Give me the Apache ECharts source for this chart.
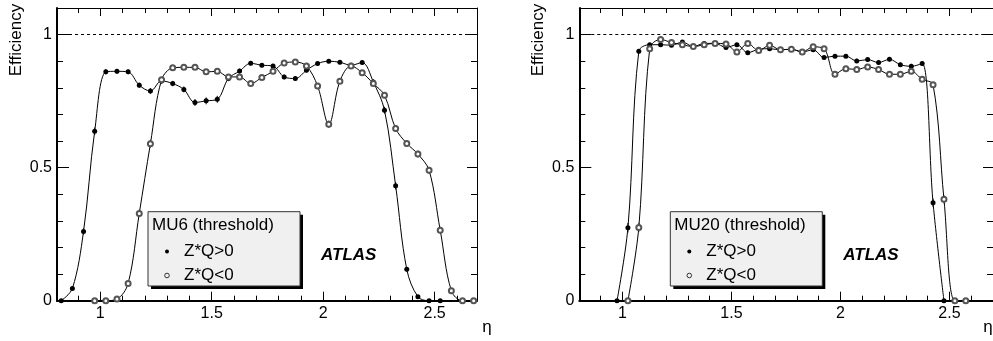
<!DOCTYPE html>
<html>
<head>
<meta charset="utf-8">
<script src="https://cdn.jsdelivr.net/npm/echarts@6/dist/echarts.min.js"></script>
<style>html,body{margin:0;padding:0;background:#fff;}#c{width:993px;height:341px;}</style>
</head>
<body>
<div id="c"></div>
<script>
// ---------- data ----------
// MU6 panel (left)
const etaMU6Pos = [0.825,0.875,0.925,0.975,1.025,1.075,1.125,1.175,1.225,1.275,1.325,1.375,1.425,1.475,1.525,1.575,1.625,1.675,1.725,1.775,1.825,1.875,1.925,1.975,2.025,2.075,2.125,2.175,2.225,2.275,2.325,2.375,2.425,2.475,2.525];
const effMU6Pos = [0,0.046,0.26,0.637,0.86,0.862,0.86,0.81,0.788,0.826,0.816,0.794,0.745,0.751,0.757,0.835,0.863,0.892,0.885,0.882,0.841,0.835,0.866,0.891,0.9,0.896,0.885,0.895,0.822,0.716,0.432,0.118,0.015,0,0];
const errMU6Pos = [0,0.006,0.012,0.014,0.01,0.009,0.009,0.01,0.011,0.01,0.01,0.011,0.013,0.013,0.013,0.01,0.009,0.008,0.008,0.008,0.009,0.009,0.008,0.008,0.007,0.007,0.008,0.008,0.01,0.013,0.014,0.008,0.004,0,0];
const etaMU6Neg = [0.975,1.025,1.075,1.125,1.175,1.225,1.275,1.325,1.375,1.425,1.475,1.525,1.575,1.625,1.675,1.725,1.775,1.825,1.875,1.925,1.975,2.025,2.075,2.125,2.175,2.225,2.275,2.325,2.375,2.425,2.475,2.525,2.575,2.625,2.675];
const effMU6Neg = [0,0,0.006,0.065,0.328,0.59,0.83,0.875,0.877,0.877,0.86,0.862,0.841,0.841,0.816,0.839,0.862,0.893,0.897,0.882,0.807,0.663,0.825,0.882,0.857,0.816,0.772,0.647,0.591,0.551,0.49,0.265,0.0375,0,0];
const errMU6Neg = [0,0,0.003,0.008,0.014,0.015,0.01,0.008,0.008,0.008,0.009,0.009,0.009,0.009,0.01,0.009,0.009,0.008,0.008,0.008,0.01,0.014,0.01,0.008,0.009,0.01,0.011,0.013,0.013,0.013,0.013,0.013,0.006,0,0];
// MU20 panel (right)
const etaMU20Pos = [0.975,1.025,1.075,1.125,1.175,1.225,1.275,1.325,1.375,1.425,1.475,1.525,1.575,1.625,1.675,1.725,1.775,1.825,1.875,1.925,1.975,2.025,2.075,2.125,2.175,2.225,2.275,2.325,2.375,2.425,2.475];
const effMU20Pos = [0,0.274,0.937,0.962,0.962,0.96,0.972,0.955,0.967,0.967,0.952,0.962,0.932,0.945,0.947,0.943,0.945,0.935,0.943,0.914,0.919,0.919,0.901,0.906,0.895,0.907,0.887,0.881,0.891,0.368,0];
const errMU20Pos = [0,0.018,0.008,0.006,0.006,0.006,0.005,0.006,0.006,0.006,0.006,0.006,0.007,0.006,0.006,0.006,0.006,0.006,0.006,0.007,0.007,0.007,0.008,0.008,0.008,0.008,0.008,0.009,0.009,0.016,0];
const etaMU20Neg = [1.025,1.075,1.125,1.175,1.225,1.275,1.325,1.375,1.425,1.475,1.525,1.575,1.625,1.675,1.725,1.775,1.825,1.875,1.925,1.975,2.025,2.075,2.125,2.175,2.225,2.275,2.325,2.375,2.425,2.475,2.525,2.575];
const effMU20Neg = [0,0.275,0.947,0.982,0.97,0.962,0.955,0.962,0.967,0.965,0.935,0.967,0.94,0.96,0.943,0.945,0.935,0.954,0.947,0.851,0.872,0.869,0.878,0.869,0.851,0.851,0.862,0.832,0.812,0.381,0,0];
const errMU20Neg = [0,0.018,0.008,0.005,0.006,0.006,0.006,0.006,0.006,0.006,0.007,0.006,0.007,0.006,0.006,0.006,0.006,0.006,0.006,0.009,0.008,0.008,0.008,0.008,0.009,0.009,0.009,0.009,0.01,0.016,0,0];
// ticks
const xMajor = [1, 1.5, 2, 2.5];
const xMinor = [0.9, 1.1, 1.2, 1.3, 1.4, 1.6, 1.7, 1.8, 1.9, 2.1, 2.2, 2.3, 2.4, 2.6];
const yMajor = [0, 0.5, 1];
const yMinor = [0.1, 0.2, 0.3, 0.4, 0.6, 0.7, 0.8, 0.9];
const panelTitles = ['MU6 (threshold)', 'MU20 (threshold)'];
const seriesNames = ['Z*Q>0', 'Z*Q<0'];

// ---------- layout ----------
const FONT = '"Liberation Sans", Arial, Helvetica, sans-serif';
const panels = [
  {left: 57, width: 420, xmin: 0.806, xmax: 2.69},
  {left: 579.3, width: 422, xmin: 0.802, xmax: 2.7}
];
const TOP = 8, HEIGHT = 292.7;

const grids = [], xAxes = [], yAxes = [], series = [], graphics = [];

function fmt(v){ return String(+v.toFixed(2)); }

function errSeries(gi, eta, eff, err, color) {
  return {
    type: 'custom', xAxisIndex: gi * 4, yAxisIndex: gi * 4, silent: true, z: 2,
    data: eta.map((x, i) => [x, eff[i], err[i]]),
    renderItem: function (params, api) {
      const x = api.value(0), y = api.value(1), e = api.value(2);
      const lo = api.coord([x, y - e]), hi = api.coord([x, y + e]);
      return {type: 'line', shape: {x1: lo[0], y1: lo[1], x2: hi[0], y2: hi[1]},
        style: {stroke: color, lineWidth: 1}};
    }
  };
}

panels.forEach((p, gi) => {
  grids.push({left: p.left, top: TOP, width: p.width, height: HEIGHT, containLabel: false});
  const xBase = {gridIndex: gi, type: 'value', min: p.xmin, max: p.xmax, splitLine: {show: false}};
  xAxes.push(Object.assign({}, xBase, {position: 'bottom',
    axisLine: {show: true, onZero: false, lineStyle: {color: '#000', width: 2}},
    axisTick: {show: true, inside: true, length: 9, customValues: xMajor, lineStyle: {color: '#000', width: 1}},
    axisLabel: {show: true, customValues: xMajor, formatter: fmt, fontSize: 16, fontFamily: FONT, color: '#000', margin: 5}}));
  xAxes.push(Object.assign({}, xBase, {position: 'bottom',
    axisLine: {show: false, onZero: false},
    axisTick: {show: true, inside: true, length: 5, customValues: xMinor, lineStyle: {color: '#000', width: 1}},
    axisLabel: {show: false}}));
  xAxes.push(Object.assign({}, xBase, {position: 'top',
    axisLine: {show: true, onZero: false, lineStyle: {color: '#000', width: 1}},
    axisTick: {show: true, inside: true, length: 8, customValues: xMajor, lineStyle: {color: '#000', width: 1}},
    axisLabel: {show: false}}));
  xAxes.push(Object.assign({}, xBase, {position: 'top',
    axisLine: {show: false, onZero: false},
    axisTick: {show: true, inside: true, length: 5, customValues: xMinor, lineStyle: {color: '#000', width: 1}},
    axisLabel: {show: false}}));

  const yBase = {gridIndex: gi, type: 'value', min: 0, max: 1.1, splitLine: {show: false}};
  yAxes.push(Object.assign({}, yBase, {position: 'left',
    axisLine: {show: true, onZero: false, lineStyle: {color: '#000', width: 2}},
    axisTick: {show: true, inside: true, length: 12, customValues: yMajor, lineStyle: {color: '#000', width: 1}},
    axisLabel: {show: true, customValues: yMajor, formatter: fmt, fontSize: 16, fontFamily: FONT, color: '#000', margin: 5}}));
  yAxes.push(Object.assign({}, yBase, {position: 'left',
    axisLine: {show: false, onZero: false},
    axisTick: {show: true, inside: true, length: 6, customValues: yMinor, lineStyle: {color: '#000', width: 1}},
    axisLabel: {show: false}}));
  yAxes.push(Object.assign({}, yBase, {position: 'right',
    axisLine: {show: true, onZero: false, lineStyle: {color: '#000', width: 1}},
    axisTick: {show: true, inside: true, length: 10, customValues: yMajor, lineStyle: {color: '#000', width: 1}},
    axisLabel: {show: false}}));
  yAxes.push(Object.assign({}, yBase, {position: 'right',
    axisLine: {show: false, onZero: false},
    axisTick: {show: true, inside: true, length: 6, customValues: yMinor, lineStyle: {color: '#000', width: 1}},
    axisLabel: {show: false}}));

  const posEta = gi === 0 ? etaMU6Pos : etaMU20Pos;
  const posEff = gi === 0 ? effMU6Pos : effMU20Pos;
  const posErr = gi === 0 ? errMU6Pos : errMU20Pos;
  const negEta = gi === 0 ? etaMU6Neg : etaMU20Neg;
  const negEff = gi === 0 ? effMU6Neg : effMU20Neg;
  const negErr = gi === 0 ? errMU6Neg : errMU20Neg;

  series.push({
    name: seriesNames[0] + gi, type: 'line', xAxisIndex: gi * 4, yAxisIndex: gi * 4,
    data: posEta.map((x, i) => [x, posEff[i]]),
    smooth: 0.35, symbol: 'circle', symbolSize: 5, showSymbol: true,
    lineStyle: {color: '#000', width: 1}, itemStyle: {color: '#000'},
    animation: false, z: 3,
    markLine: {silent: true, symbol: ['none', 'none'], label: {show: false},
      lineStyle: {color: '#000', width: 1, type: [3, 3]}, data: [{yAxis: 1}]}
  });
  series.push({
    name: seriesNames[1] + gi, type: 'line', xAxisIndex: gi * 4, yAxisIndex: gi * 4,
    data: negEta.map((x, i) => [x, negEff[i]]),
    smooth: 0.35, symbol: 'emptyCircle', symbolSize: 5, showSymbol: true,
    lineStyle: {color: '#000', width: 1}, itemStyle: {color: '#555', borderWidth: 1},
    animation: false, z: 4
  });
  series.push(errSeries(gi, posEta, posEff, posErr, '#000'));
  series.push(errSeries(gi, negEta, negEff, negErr, '#444'));

  const dx = p.left - 57;
  // legend box
  graphics.push({type: 'rect', shape: {x: 151 + dx, y: 214.7, width: 152, height: 74.3}, style: {fill: '#000'}, z: 10});
  graphics.push({type: 'rect', shape: {x: 148 + dx, y: 211.7, width: 152, height: 74.3}, style: {fill: '#f0f0f0', stroke: '#333', lineWidth: 1}, z: 11});
  graphics.push({type: 'text', x: 152 + dx, y: 225, style: {text: panelTitles[gi], font: '17px ' + FONT, fill: '#000', textVerticalAlign: 'middle'}, z: 12});
  graphics.push({type: 'circle', shape: {cx: 167 + dx, cy: 251.5, r: 2}, style: {fill: '#000'}, z: 12});
  graphics.push({type: 'text', x: 184 + dx, y: 251.5, style: {text: seriesNames[0], font: '17px ' + FONT, fill: '#000', textVerticalAlign: 'middle'}, z: 12});
  graphics.push({type: 'circle', shape: {cx: 167 + dx, cy: 275.5, r: 2.3}, style: {fill: 'none', stroke: '#333', lineWidth: 1}, z: 12});
  graphics.push({type: 'text', x: 184 + dx, y: 275.5, style: {text: seriesNames[1], font: '17px ' + FONT, fill: '#000', textVerticalAlign: 'middle'}, z: 12});
  // ATLAS
  graphics.push({type: 'text', x: 321 + dx, y: 255, style: {text: 'ATLAS', font: 'italic bold 17px ' + FONT, fill: '#000', textVerticalAlign: 'middle'}, z: 12});
  // y title
  graphics.push({type: 'text', x: 16.5 + dx, y: 40, rotation: Math.PI / 2, style: {text: 'Efficiency', font: '17px ' + FONT, fill: '#000', textAlign: 'center', textVerticalAlign: 'middle'}, z: 12});
});
// x titles (η)
graphics.push({type: 'text', x: 487, y: 327, style: {text: 'η', font: '17px ' + FONT, fill: '#000', textAlign: 'center', textVerticalAlign: 'middle'}, z: 12});
graphics.push({type: 'text', x: 988, y: 327, style: {text: 'η', font: '17px ' + FONT, fill: '#000', textAlign: 'center', textVerticalAlign: 'middle'}, z: 12});

const chart = echarts.init(document.getElementById('c'), null, {renderer: 'canvas'});
chart.setOption({
  animation: false,
  backgroundColor: '#fff',
  grid: grids, xAxis: xAxes, yAxis: yAxes, series: series, graphic: graphics
});
</script>
</body>
</html>
